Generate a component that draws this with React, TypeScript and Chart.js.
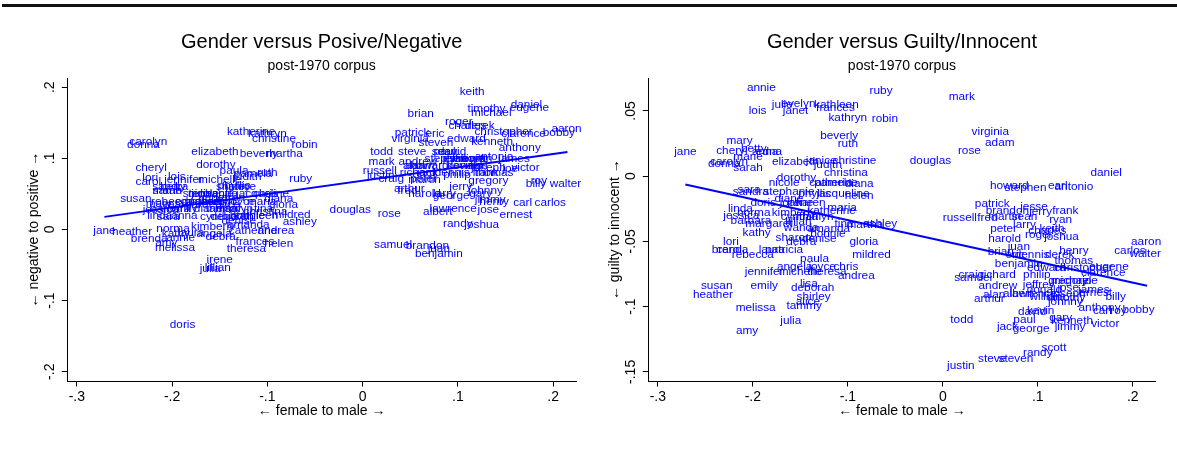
import React, { useEffect, useRef } from "react";
import { Chart, registerables } from "chart.js";

Chart.register(...registerables);

// ---------------- data ----------------
const names = [
  "annie", "ruby", "julie", "evelyn", "kathleen", "frances", "lois", "janet", "kathryn", "robin",
  "beverly", "ruth", "mary", "jane", "cheryl", "betty", "edna", "anna", "marie", "carolyn",
  "donna", "sarah", "elizabeth", "janice", "christine", "martha", "judith", "dorothy", "christina", "nicole",
  "catherine", "diana", "sandra", "stephanie", "phyllis", "jacqueline", "helen", "diane", "joan", "karen",
  "maria", "linda", "jessica", "norma", "kimberly", "katherine", "cynthia", "marilyn", "wanda", "lillian",
  "barbara", "margaret", "tina", "ashley", "kathy", "bonnie", "lori", "sharon", "denise", "debra",
  "gloria", "brenda", "carol", "rebecca", "patricia", "laura", "paula", "mildred", "jennifer", "angela",
  "michelle", "joyce", "theresa", "chris", "andrea", "susan", "heather", "emily", "lisa", "deborah",
  "shirley", "alice", "tammy", "melissa", "julia", "amy", "irene", "doris", "amanda", "pamela",
  "sara",
  "mark", "virginia", "adam", "rose", "douglas", "daniel", "howard", "stephen", "earl", "antonio",
  "patrick", "jesse", "frank", "brandon", "jerry", "russell", "fred", "martin", "sean", "larry",
  "ryan", "peter", "charles", "roger", "joshua", "harold", "aaron", "juan", "henry", "carlos",
  "walter", "brian", "dennis", "thomas", "eugene", "clarence", "benjamin", "michael", "jeffrey", "craig",
  "samuel", "richard", "andrew", "alan", "arthur", "donald", "jose", "james", "ernest", "billy",
  "william", "timothy", "johnny", "anthony", "carl", "roy", "bobby", "todd", "david", "kevin",
  "gary", "paul", "kenneth", "victor", "jack", "george", "jimmy", "scott", "randy", "steve",
  "steven", "justin", "keith", "derek", "christopher", "eric", "edward", "joseph", "joe", "philip",
  "gregory", "lawrence", "albert",
];

// female (-) to male (+)
const genderX = [
  -0.191, -0.065, -0.169, -0.152, -0.112, -0.113, -0.195, -0.155, -0.100, -0.061,
  -0.109, -0.100, -0.214, -0.271, -0.222, -0.199, -0.183, -0.187, -0.205, -0.225,
  -0.230, -0.205, -0.155, -0.128, -0.093, -0.082, -0.121, -0.154, -0.102, -0.167,
  -0.115, -0.088, -0.202, -0.162, -0.135, -0.105, -0.088, -0.162, -0.160, -0.139,
  -0.106, -0.213, -0.212, -0.199, -0.157, -0.117, -0.151, -0.135, -0.149, -0.152,
  -0.202, -0.183, -0.104, -0.066, -0.196, -0.121, -0.223, -0.157, -0.130, -0.149,
  -0.083, -0.224, -0.225, -0.200, -0.167, -0.180, -0.135, -0.075, -0.188, -0.156,
  -0.150, -0.127, -0.122, -0.102, -0.091, -0.238, -0.242, -0.188, -0.141, -0.137,
  -0.136, -0.142, -0.146, -0.197, -0.160, -0.206, -0.150, -0.189, -0.120, -0.115,
  -0.204,
  0.020, 0.050, 0.060, 0.028, -0.013, 0.172, 0.070, 0.087, 0.121, 0.138,
  0.052, 0.096, 0.129, 0.068, 0.103, 0.018, 0.047, 0.065, 0.086, 0.086,
  0.124, 0.064, 0.110, 0.101, 0.125, 0.065, 0.214, 0.080, 0.138, 0.197,
  0.213, 0.061, 0.094, 0.138, 0.175, 0.169, 0.080, 0.135, 0.101, 0.030,
  0.032, 0.058, 0.058, 0.054, 0.049, 0.107, 0.132, 0.159, 0.161, 0.182,
  0.110, 0.130, 0.129, 0.165, 0.168, 0.185, 0.206, 0.020, 0.094, 0.103,
  0.124, 0.086, 0.136, 0.171, 0.068, 0.093, 0.134, 0.117, 0.100, 0.052,
  0.077, 0.019, 0.115, 0.123, 0.148, 0.076, 0.109, 0.132, 0.155, 0.099,
  0.132, 0.095, 0.079,
];

// negative (-) to positive (+)
const posNeg = [
  -0.011, 0.072, 0.050, 0.040, 0.019, -0.017, 0.074, 0.045, 0.135, 0.120,
  0.107, 0.080, 0.036, -0.002, 0.087, 0.060, 0.040, 0.020, 0.055, 0.124,
  0.120, 0.055, 0.110, 0.060, 0.128, 0.107, 0.075, 0.091, 0.025, 0.050,
  -0.002, 0.044, 0.060, 0.050, 0.062, 0.051, -0.020, 0.030, 0.040, 0.045,
  0.040, 0.019, 0.028, 0.002, 0.004, 0.138, 0.018, 0.030, 0.051, -0.054,
  0.030, 0.035, 0.030, 0.011, -0.006, 0.020, 0.073, 0.040, 0.013, -0.010,
  0.035, -0.012, 0.067, 0.040, 0.040, -0.004, 0.083, 0.021, 0.070, -0.005,
  0.070, 0.040, -0.027, 0.050, -0.001, 0.043, -0.003, 0.030, 0.030, 0.018,
  0.060, 0.035, 0.030, -0.025, -0.055, -0.019, -0.042, -0.133, 0.007, 0.079,
  0.018,
  0.096, 0.128, 0.090, 0.022, 0.028, 0.176, 0.090, 0.100, 0.090, 0.103,
  0.137, 0.100, 0.080, -0.022, 0.060, 0.083, 0.055, 0.070, 0.110, 0.050,
  0.100, 0.071, 0.146, 0.152, 0.007, 0.050, 0.142, -0.027, 0.040, 0.038,
  0.065, 0.163, 0.080, 0.080, 0.171, 0.135, -0.034, 0.164, 0.100, 0.072,
  -0.021, 0.080, 0.096, 0.090, 0.057, 0.090, 0.028, 0.100, 0.021, 0.065,
  0.100, 0.170, 0.055, 0.115, 0.038, 0.069, 0.137, 0.109, 0.110, 0.090,
  0.050, 0.110, 0.124, 0.087, 0.080, 0.048, 0.042, 0.100, 0.008, 0.110,
  0.122, 0.076, 0.194, 0.146, 0.138, 0.135, 0.128, 0.087, 0.086, 0.077,
  0.069, 0.030, 0.025,
];

// guilty (-) to innocent (+)
const guilt = [
  0.068, 0.066, 0.055, 0.056, 0.055, 0.053, 0.050, 0.050, 0.045, 0.044,
  0.031, 0.025, 0.027, 0.019, 0.020, 0.021, 0.019, 0.019, 0.015, 0.011,
  0.010, 0.007, 0.011, 0.012, 0.012, -0.037, 0.009, -0.001, 0.003, -0.005,
  -0.005, -0.006, -0.012, -0.012, -0.013, -0.013, -0.015, -0.017, -0.020, -0.020,
  -0.024, -0.025, -0.030, -0.028, -0.028, -0.026, -0.031, -0.031, -0.039, -0.035,
  -0.034, -0.036, -0.036, -0.036, -0.043, -0.044, -0.050, -0.047, -0.048, -0.050,
  -0.050, -0.056, -0.056, -0.060, -0.056, -0.056, -0.063, -0.060, -0.073, -0.069,
  -0.073, -0.069, -0.073, -0.069, -0.076, -0.084, -0.091, -0.084, -0.082, -0.085,
  -0.092, -0.096, -0.099, -0.101, -0.111, -0.118, -0.020, -0.020, -0.040, -0.005,
  -0.010,
  0.061, 0.034, 0.026, 0.020, 0.012, 0.003, -0.007, -0.009, -0.007, -0.008,
  -0.021, -0.023, -0.026, -0.026, -0.027, -0.032, -0.032, -0.031, -0.031, -0.037,
  -0.033, -0.040, -0.042, -0.045, -0.046, -0.048, -0.050, -0.054, -0.057, -0.057,
  -0.059, -0.058, -0.060, -0.065, -0.069, -0.074, -0.067, -0.080, -0.083, -0.075,
  -0.078, -0.075, -0.084, -0.091, -0.094, -0.087, -0.085, -0.087, -0.089, -0.092,
  -0.092, -0.093, -0.096, -0.101, -0.103, -0.103, -0.102, -0.110, -0.104, -0.103,
  -0.108, -0.110, -0.111, -0.113, -0.115, -0.117, -0.115, -0.131, -0.135, -0.140,
  -0.140, -0.145, -0.040, -0.060, -0.070, -0.060, -0.070, -0.090, -0.080, -0.075,
  -0.080, -0.090, -0.090,
];

// fitted lines (end points)
const fitX = [-0.271, 0.215];
const fitPosNeg = [0.0177, 0.109];
const fitGuilt = [-0.0064, -0.084];

const xTicks = [-0.3, -0.2, -0.1, 0, 0.1, 0.2];
const posNegTicks = [-0.2, -0.1, 0, 0.1, 0.2];
const guiltTicks = [-0.15, -0.1, -0.05, 0, 0.05];

// ---------------- drawing ----------------
const FONT = "'Liberation Sans', Arial, Helvetica, sans-serif";
const BLUE = "rgb(0,0,255)";

function fmt(v: number): string {
  const r = Number(v.toFixed(3));
  if (r === 0) return "0";
  const s = String(Math.abs(r)).replace(/^0/, "");
  return (r < 0 ? "-" : "") + s;
}

interface Panel {
  title: string;
  subtitle: string;
  xTitle: string;
  yTitle: string;
  yValues: number[];
  fitY: number[];
  yTicks: number[];
  yMin: number;
  yMax: number;
  axisWidth: number;
  padRight: number;
}

function makeConfig(p: Panel): any {
  const textPlugin = {
    id: "nameLabels",
    afterDatasetDraw(chart: any, args: any) {
      if (args.index !== 1) return;
      const ctx = chart.ctx;
      const meta = chart.getDatasetMeta(1);
      ctx.save();
      ctx.font = `11.8px ${FONT}`;
      ctx.fillStyle = BLUE;
      ctx.textAlign = "center";
      ctx.textBaseline = "alphabetic";
      meta.data.forEach((el: any, i: number) => {
        ctx.fillText(names[i], el.x, el.y + 3.5);
      });
      ctx.restore();
    },
    afterDraw(chart: any) {
      const { ctx, chartArea: a } = chart;
      const xs = chart.scales.x;
      const ys = chart.scales.y;
      const cx = (a.left + a.right) / 2;
      ctx.save();
      ctx.fillStyle = "#000";
      ctx.textAlign = "center";
      ctx.textBaseline = "middle";
      ctx.font = `20px ${FONT}`;
      ctx.fillText(p.title, cx, 42);
      ctx.font = `14px ${FONT}`;
      ctx.fillText(p.subtitle, cx, 66);
      ctx.fillText(p.xTitle, cx, 411);
      xTicks.forEach((v) => ctx.fillText(fmt(v), xs.getPixelForValue(v), 397));
      p.yTicks.forEach((v) => {
        ctx.save();
        ctx.translate(a.left - 17.5, ys.getPixelForValue(v));
        ctx.rotate(-Math.PI / 2);
        ctx.fillText(fmt(v), 0, 0);
        ctx.restore();
      });
      ctx.save();
      ctx.translate(a.left - 33.5, (a.top + a.bottom) / 2);
      ctx.rotate(-Math.PI / 2);
      ctx.fillText(p.yTitle, 0, 0);
      ctx.restore();
      ctx.restore();
    },
  };

  const axisCommon = {
    type: "linear",
    ticks: { display: false },
    grid: {
      display: true,
      drawOnChartArea: false,
      drawTicks: true,
      tickLength: 5.5,
      color: "#000",
      lineWidth: 1,
    },
    border: { display: true, color: "#000", width: 1 },
  };

  return {
    type: "scatter",
    data: {
      datasets: [
        {
          label: "fit",
          data: fitX.map((x, i) => ({ x, y: p.fitY[i] })),
          showLine: true,
          borderColor: BLUE,
          borderWidth: 2,
          pointRadius: 0,
          fill: false,
        },
        {
          label: "names",
          data: genderX.map((x, i) => ({ x, y: p.yValues[i] })),
          pointRadius: 0,
          pointHoverRadius: 0,
        },
      ],
    },
    options: {
      responsive: false,
      animation: false,
      events: [],
      layout: { padding: { left: 0, right: p.padRight, top: 78.3, bottom: 0 } },
      plugins: { legend: { display: false }, tooltip: { enabled: false }, title: { display: false } },
      scales: {
        x: {
          ...axisCommon,
          min: -0.31,
          max: 0.224,
          afterBuildTicks: (s: any) => {
            s.ticks = xTicks.map((v) => ({ value: v }));
          },
          afterFit: (s: any) => {
            s.height = 85;
          },
        },
        y: {
          ...axisCommon,
          min: p.yMin,
          max: p.yMax,
          afterBuildTicks: (s: any) => {
            s.ticks = p.yTicks.map((v) => ({ value: v }));
          },
          afterFit: (s: any) => {
            s.width = p.axisWidth;
          },
        },
      },
    },
    plugins: [textPlugin],
  };
}

function ChartPanel({ panel, left, width }: { panel: Panel; left: number; width: number }) {
  const ref = useRef<HTMLCanvasElement | null>(null);
  useEffect(() => {
    if (!ref.current) return;
    const chart = new Chart(ref.current, makeConfig(panel));
    return () => chart.destroy();
  }, [panel]);
  return (
    <canvas
      ref={ref}
      width={width}
      height={466}
      style={{ position: "absolute", left, top: 0, width, height: 466, display: "block" }}
    />
  );
}

const leftPanel: Panel = {
  title: "Gender versus Posive/Negative",
  subtitle: "post-1970 corpus",
  xTitle: "\u2190 female to male \u2192",
  yTitle: "\u2190 negative to positive \u2192",
  yValues: posNeg,
  fitY: fitPosNeg,
  yTicks: posNegTicks,
  yMin: -0.213,
  yMax: 0.2125,
  axisWidth: 67.3,
  padRight: 13,
};

const rightPanel: Panel = {
  title: "Gender versus Guilty/Innocent",
  subtitle: "post-1970 corpus",
  xTitle: "\u2190 female to male \u2192",
  yTitle: "\u2190 guilty to innocent \u2192",
  yValues: guilt,
  fitY: fitGuilt,
  yTicks: guiltTicks,
  yMin: -0.157,
  yMax: 0.075,
  axisWidth: 59.3,
  padRight: 21.4,
};

export default function App() {
  return (
    <div
      style={{
        position: "absolute",
        left: 0,
        top: 0,
        width: 1177,
        height: 466,
        background: "#fff",
        overflow: "hidden",
      }}
    >
      <div style={{ position: "absolute", left: 2, top: 4, width: 1175, height: 3, background: "#111" }} />
      <ChartPanel panel={leftPanel} left={0} width={589} />
      <ChartPanel panel={rightPanel} left={589} width={588} />
    </div>
  );
}
